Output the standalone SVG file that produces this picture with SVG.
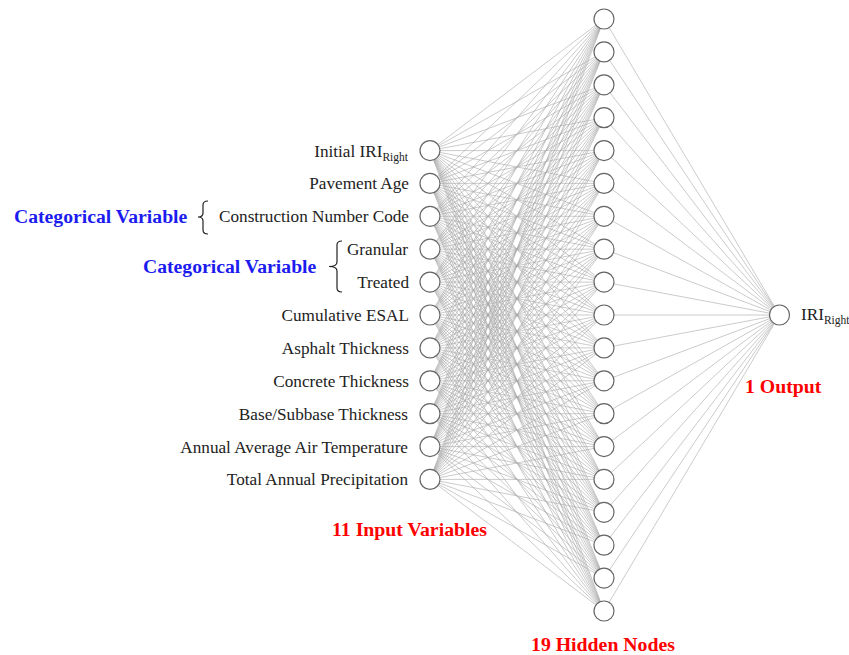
<svg xmlns="http://www.w3.org/2000/svg" width="849" height="655" viewBox="0 0 849 655" font-family="Liberation Serif, Times New Roman, serif">
<style>
.conn{fill:none;stroke:#a8a8a8;stroke-width:0.6;stroke-linejoin:bevel}
.node{fill:#fff;stroke:#666;stroke-width:1.2}
.lbl{font-size:17.2px;fill:#222;text-anchor:end}
.sub{font-size:11.5px}
.blue{font-size:19.7px;font-weight:bold;fill:#1c1cf0}
.red{font-size:19.8px;font-weight:bold;fill:#f00}
.brace{fill:none;stroke:#222;stroke-width:1.2}
</style>
<rect width="849" height="655" fill="#fff"/>
<g id="connectors">
<path class="conn" d="M604 19L430 150.6 604 51.9M604 84.8L430 150.6 604 117.7M604 150.6L430 150.6 604 183.4M604 216.3L430 150.6 604 249.2M604 282.1L430 150.6 604 315M604 347.9L430 150.6 604 380.8M604 413.7L430 150.6 604 446.6M604 479.4L430 150.6 604 512.3M604 545.2L430 150.6 604 578.1M604 611L430 150.6"/>
<path class="conn" d="M604 19L430 183.4 604 51.9M604 84.8L430 183.4 604 117.7M604 150.6L430 183.4 604 183.4M604 216.3L430 183.4 604 249.2M604 282.1L430 183.4 604 315M604 347.9L430 183.4 604 380.8M604 413.7L430 183.4 604 446.6M604 479.4L430 183.4 604 512.3M604 545.2L430 183.4 604 578.1M604 611L430 183.4"/>
<path class="conn" d="M604 19L430 216.3 604 51.9M604 84.8L430 216.3 604 117.7M604 150.6L430 216.3 604 183.4M604 216.3L430 216.3 604 249.2M604 282.1L430 216.3 604 315M604 347.9L430 216.3 604 380.8M604 413.7L430 216.3 604 446.6M604 479.4L430 216.3 604 512.3M604 545.2L430 216.3 604 578.1M604 611L430 216.3"/>
<path class="conn" d="M604 19L430 249.2 604 51.9M604 84.8L430 249.2 604 117.7M604 150.6L430 249.2 604 183.4M604 216.3L430 249.2 604 249.2M604 282.1L430 249.2 604 315M604 347.9L430 249.2 604 380.8M604 413.7L430 249.2 604 446.6M604 479.4L430 249.2 604 512.3M604 545.2L430 249.2 604 578.1M604 611L430 249.2"/>
<path class="conn" d="M604 19L430 282.1 604 51.9M604 84.8L430 282.1 604 117.7M604 150.6L430 282.1 604 183.4M604 216.3L430 282.1 604 249.2M604 282.1L430 282.1 604 315M604 347.9L430 282.1 604 380.8M604 413.7L430 282.1 604 446.6M604 479.4L430 282.1 604 512.3M604 545.2L430 282.1 604 578.1M604 611L430 282.1"/>
<path class="conn" d="M604 19L430 315 604 51.9M604 84.8L430 315 604 117.7M604 150.6L430 315 604 183.4M604 216.3L430 315 604 249.2M604 282.1L430 315 604 315M604 347.9L430 315 604 380.8M604 413.7L430 315 604 446.6M604 479.4L430 315 604 512.3M604 545.2L430 315 604 578.1M604 611L430 315"/>
<path class="conn" d="M604 19L430 347.9 604 51.9M604 84.8L430 347.9 604 117.7M604 150.6L430 347.9 604 183.4M604 216.3L430 347.9 604 249.2M604 282.1L430 347.9 604 315M604 347.9L430 347.9 604 380.8M604 413.7L430 347.9 604 446.6M604 479.4L430 347.9 604 512.3M604 545.2L430 347.9 604 578.1M604 611L430 347.9"/>
<path class="conn" d="M604 19L430 380.8 604 51.9M604 84.8L430 380.8 604 117.7M604 150.6L430 380.8 604 183.4M604 216.3L430 380.8 604 249.2M604 282.1L430 380.8 604 315M604 347.9L430 380.8 604 380.8M604 413.7L430 380.8 604 446.6M604 479.4L430 380.8 604 512.3M604 545.2L430 380.8 604 578.1M604 611L430 380.8"/>
<path class="conn" d="M604 19L430 413.7 604 51.9M604 84.8L430 413.7 604 117.7M604 150.6L430 413.7 604 183.4M604 216.3L430 413.7 604 249.2M604 282.1L430 413.7 604 315M604 347.9L430 413.7 604 380.8M604 413.7L430 413.7 604 446.6M604 479.4L430 413.7 604 512.3M604 545.2L430 413.7 604 578.1M604 611L430 413.7"/>
<path class="conn" d="M604 19L430 446.6 604 51.9M604 84.8L430 446.6 604 117.7M604 150.6L430 446.6 604 183.4M604 216.3L430 446.6 604 249.2M604 282.1L430 446.6 604 315M604 347.9L430 446.6 604 380.8M604 413.7L430 446.6 604 446.6M604 479.4L430 446.6 604 512.3M604 545.2L430 446.6 604 578.1M604 611L430 446.6"/>
<path class="conn" d="M604 19L430 479.4 604 51.9M604 84.8L430 479.4 604 117.7M604 150.6L430 479.4 604 183.4M604 216.3L430 479.4 604 249.2M604 282.1L430 479.4 604 315M604 347.9L430 479.4 604 380.8M604 413.7L430 479.4 604 446.6M604 479.4L430 479.4 604 512.3M604 545.2L430 479.4 604 578.1M604 611L430 479.4"/>
<path class="conn" d="M604 19L779.5 315 604 51.9M604 84.8L779.5 315 604 117.7M604 150.6L779.5 315 604 183.4M604 216.3L779.5 315 604 249.2M604 282.1L779.5 315 604 315M604 347.9L779.5 315 604 380.8M604 413.7L779.5 315 604 446.6M604 479.4L779.5 315 604 512.3M604 545.2L779.5 315 604 578.1M604 611L779.5 315"/>
</g>
<g id="input-nodes">
<g id="in1"><circle class="node" cx="430" cy="150.6" r="10"/><text class="lbl" x="408" y="156.6">Initial IRI<tspan class="sub" dy="4">Right</tspan></text></g>
<g id="in2"><circle class="node" cx="430" cy="183.4" r="10"/><text class="lbl" x="409" y="189.4">Pavement Age</text></g>
<g id="in3"><circle class="node" cx="430" cy="216.3" r="10"/><text class="lbl" x="409" y="222.3">Construction Number Code</text></g>
<g id="in4"><circle class="node" cx="430" cy="249.2" r="10"/><text class="lbl" x="408" y="255.2">Granular</text></g>
<g id="in5"><circle class="node" cx="430" cy="282.1" r="10"/><text class="lbl" x="409" y="288.1">Treated</text></g>
<g id="in6"><circle class="node" cx="430" cy="315" r="10"/><text class="lbl" x="409" y="321">Cumulative ESAL</text></g>
<g id="in7"><circle class="node" cx="430" cy="347.9" r="10"/><text class="lbl" x="409" y="353.9">Asphalt Thickness</text></g>
<g id="in8"><circle class="node" cx="430" cy="380.8" r="10"/><text class="lbl" x="409" y="386.8">Concrete Thickness</text></g>
<g id="in9"><circle class="node" cx="430" cy="413.7" r="10"/><text class="lbl" x="408" y="419.7">Base/Subbase Thickness</text></g>
<g id="in10"><circle class="node" cx="430" cy="446.6" r="10"/><text class="lbl" x="408" y="452.6">Annual Average Air Temperature</text></g>
<g id="in11"><circle class="node" cx="430" cy="479.4" r="10"/><text class="lbl" x="408" y="485.4">Total Annual Precipitation</text></g>
</g>
<g id="hidden-nodes">
<circle id="h1" class="node" cx="604" cy="19" r="10"/>
<circle id="h2" class="node" cx="604" cy="51.9" r="10"/>
<circle id="h3" class="node" cx="604" cy="84.8" r="10"/>
<circle id="h4" class="node" cx="604" cy="117.7" r="10"/>
<circle id="h5" class="node" cx="604" cy="150.6" r="10"/>
<circle id="h6" class="node" cx="604" cy="183.4" r="10"/>
<circle id="h7" class="node" cx="604" cy="216.3" r="10"/>
<circle id="h8" class="node" cx="604" cy="249.2" r="10"/>
<circle id="h9" class="node" cx="604" cy="282.1" r="10"/>
<circle id="h10" class="node" cx="604" cy="315" r="10"/>
<circle id="h11" class="node" cx="604" cy="347.9" r="10"/>
<circle id="h12" class="node" cx="604" cy="380.8" r="10"/>
<circle id="h13" class="node" cx="604" cy="413.7" r="10"/>
<circle id="h14" class="node" cx="604" cy="446.6" r="10"/>
<circle id="h15" class="node" cx="604" cy="479.4" r="10"/>
<circle id="h16" class="node" cx="604" cy="512.3" r="10"/>
<circle id="h17" class="node" cx="604" cy="545.2" r="10"/>
<circle id="h18" class="node" cx="604" cy="578.1" r="10"/>
<circle id="h19" class="node" cx="604" cy="611" r="10"/>
</g>
<g id="output-node"><circle class="node" cx="779.5" cy="315" r="10"/><text class="lbl" style="text-anchor:start" x="801" y="320">IRI<tspan class="sub" dy="4">Right</tspan></text></g>
<g id="cat1"><text class="blue" x="14" y="223">Categorical Variable</text><path class="brace" d="M208 201Q203 201 203 205L203 213Q203 217 198 217Q203 217 203 221L203 230Q203 234 208 234"/></g>
<g id="cat2"><text class="blue" x="143" y="273">Categorical Variable</text><path class="brace" d="M342 241Q337 241 337 245L337 262Q337 266.5 329 266.5Q337 266.5 337 271L337 288Q337 292 342 292"/></g>
<text class="red" x="332" y="536">11 Input Variables</text>
<text class="red" x="603" y="651" text-anchor="middle">19 Hidden Nodes</text>
<text class="red" x="745" y="393">1 Output</text>
</svg>
